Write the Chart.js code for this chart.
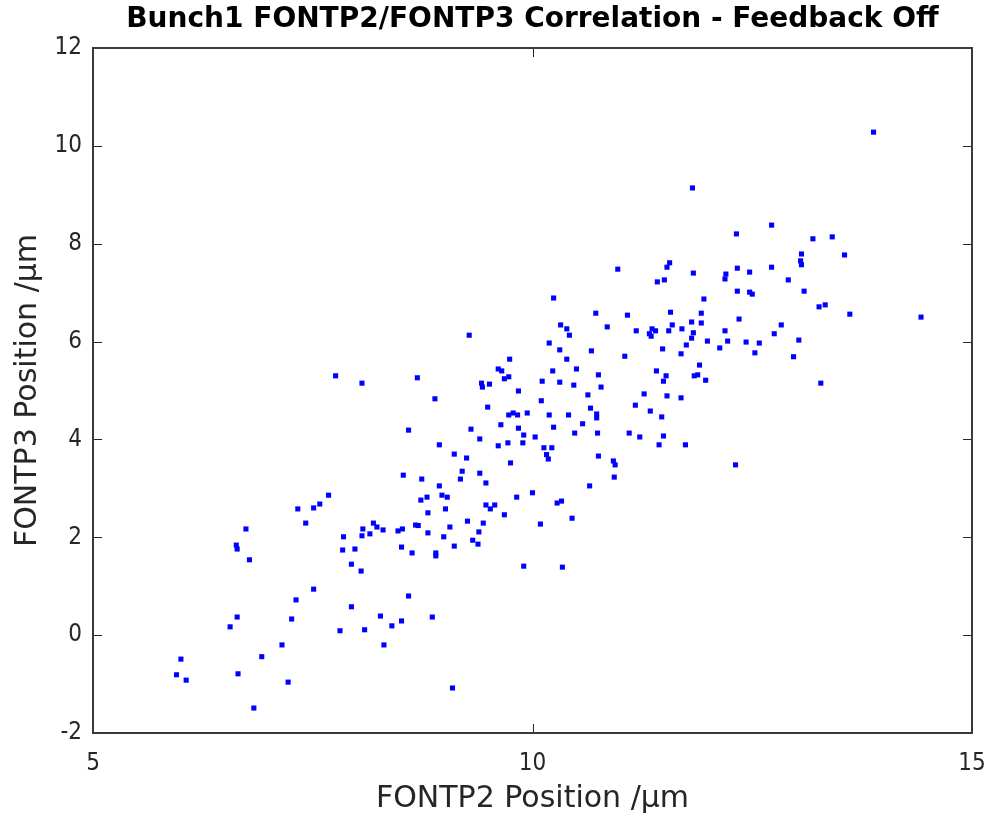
<!DOCTYPE html>
<html>
<head>
    <title>Bunch1 FONTP2/FONTP3 Correlation</title>
    <script src="https://cdn.jsdelivr.net/npm/chart.js"></script>
    <style>
        body { margin: 0; background: #fff; }
    </style>
</head>
<body>
    <canvas id="corrChart" width="988" height="817"></canvas>

    <script>
        const chartTitle = 'Bunch1 FONTP2/FONTP3 Correlation - Feedback Off';
        const xLabel = 'FONTP2 Position /\u03bcm';
        const yLabel = 'FONTP3 Position /\u03bcm';

        // FONTP2 positions (um)
        const fontp2 = [
            5.95, 6.00, 6.06, 6.56, 6.64, 6.65, 6.63, 6.64, 6.74, 6.78,
            6.83, 6.92, 7.15, 7.22, 7.26, 7.31, 7.42, 7.51, 7.33, 7.51,
            7.58, 7.68, 7.76, 7.81, 7.85, 7.84, 7.98, 7.94, 7.94, 8.05,
            8.06, 8.07, 8.06, 8.09, 8.15, 8.19, 8.23, 8.27, 8.30, 8.31,
            8.40, 8.47, 8.51, 8.51, 8.52, 8.53, 8.59, 8.59, 8.63, 8.67,
            8.70, 8.69, 8.74, 8.73, 8.80, 8.81, 8.81, 8.86, 8.89, 8.90,
            8.90, 8.94, 8.94, 8.97, 8.99, 9.01, 9.03, 9.06, 9.11, 9.11,
            9.09, 9.18, 9.20, 9.25, 9.26, 9.28, 9.30, 9.32, 9.38, 9.39,
            9.40, 9.40, 9.42, 9.43, 9.44, 9.47, 9.47, 9.49, 9.51, 9.52,
            9.57, 9.61, 9.61, 9.64, 9.65, 9.68, 9.68, 9.72, 9.73, 9.73,
            9.74, 9.75, 9.78, 9.82, 9.83, 9.84, 9.84, 9.89, 9.90, 9.90,
            9.94, 10.00, 10.03, 10.09, 10.10, 10.11, 10.13, 10.16, 10.18, 10.19,
            10.19, 10.22, 10.23, 10.24, 10.24, 10.28, 10.31, 10.31, 10.32, 10.33,
            10.34, 10.39, 10.39, 10.41, 10.42, 10.45, 10.47, 10.48, 10.50, 10.57,
            10.63, 10.65, 10.66, 10.67, 10.72, 10.73, 10.73, 10.74, 10.75, 10.75,
            10.78, 10.85, 10.92, 10.94, 10.93, 10.97, 11.05, 11.08, 11.10, 11.17,
            11.18, 11.22, 11.27, 11.33, 11.34, 11.35, 11.36, 11.40, 11.41, 11.42,
            11.44, 11.47, 11.48, 11.49, 11.49, 11.50, 11.52, 11.53, 11.53, 11.55,
            11.56, 11.57, 11.59, 11.69, 11.69, 11.70, 11.74, 11.75, 11.81, 11.81,
            11.82, 11.83, 11.83, 11.84, 11.88, 11.90, 11.92, 11.92, 11.95, 11.97,
            11.99, 12.13, 12.19, 12.19, 12.20, 12.22, 12.31, 12.32, 12.33, 12.33,
            12.35, 12.43, 12.47, 12.47, 12.50, 12.53, 12.58, 12.72, 12.72, 12.75,
            12.83, 12.91, 12.97, 13.03, 13.05, 13.06, 13.06, 13.09, 13.19, 13.26,
            13.28, 13.33, 13.41, 13.55, 13.61, 13.88, 14.42
        ];

        // FONTP3 positions (um), same order as fontp2
        const fontp3 = [
            -0.81, -0.49, -0.92, 0.17, 0.37, -0.79, 1.84, 1.76, 2.17, 1.54,
            -1.49, -0.44, -0.20, -0.96, 0.33, 0.72, 2.29, 0.94, 2.58, 2.60,
            2.68, 2.86, 5.30, 0.09, 2.01, 1.74, 1.76, 1.45, 0.58, 1.31,
            2.03, 2.17, 5.15, 0.11, 2.07, 2.29, 2.21, 0.39, 2.15, -0.20,
            0.19, 2.13, 0.29, 1.80, 2.17, 3.27, 0.80, 4.19, 1.68, 2.25,
            2.24, 5.26, 3.19, 2.76, 2.82, 2.50, 2.09, 0.37, 4.83, 1.68,
            1.62, 3.89, 3.05, 2.86, 2.01, 2.58, 2.82, 2.21, 3.70, 1.82,
            -1.08, 3.19, 3.35, 3.62, 2.33, 6.13, 4.21, 1.94, 1.86, 2.11,
            4.01, 3.31, 5.15, 5.07, 2.29, 3.11, 2.66, 4.66, 5.13, 2.58,
            2.66, 5.44, 3.87, 4.30, 5.40, 5.24, 2.46, 3.93, 5.28, 4.50,
            5.64, 3.52, 4.54, 2.82, 4.50, 4.99, 4.23, 3.93, 4.09, 1.41,
            4.54, 2.91, 4.05, 2.27, 4.79, 5.19, 3.83, 3.69, 3.60, 5.97,
            4.50, 3.83, 5.40, 6.89, 4.25, 2.70, 5.83, 5.17, 6.34, 2.74,
            1.39, 6.26, 5.64, 4.50, 6.13, 2.39, 5.11, 4.13, 5.44, 4.32,
            4.91, 3.05, 4.64, 5.81, 6.58, 4.52, 4.44, 4.13, 5.32, 3.66,
            5.07, 6.30, 3.56, 3.48, 3.23, 7.48, 5.70, 6.54, 4.13, 4.70,
            6.22, 4.05, 4.93, 6.16, 4.58, 6.11, 6.26, 6.22, 5.40, 7.22,
            3.89, 4.46, 5.85, 5.19, 4.07, 7.26, 5.30, 7.52, 4.89, 6.22,
            7.61, 6.60, 6.34, 5.75, 4.85, 6.26, 3.89, 5.93, 6.40, 6.07,
            9.14, 7.40, 6.18, 5.30, 5.32, 5.52, 6.58, 6.38, 6.87, 5.21,
            6.01, 5.87, 7.28, 6.22, 7.38, 6.01, 3.48, 8.20, 7.50, 7.03,
            6.46, 5.99, 7.42, 7.01, 6.97, 5.77, 5.97, 7.52, 8.38, 6.16,
            6.34, 7.26, 5.69, 6.03, 7.65, 7.57, 7.79, 7.03, 8.10, 6.71,
            5.15, 6.75, 8.14, 7.77, 6.56, 10.28, 6.50
        ];

        const xTicks = [5, 10, 15];
        const yTicks = [-2, 0, 2, 4, 6, 8, 10, 12];

        const FONT = '"DejaVu Sans Condensed", "DejaVu Sans", sans-serif';
        const LABEL_FONT = '"DejaVu Sans", sans-serif';
        const AXIS_COLOR = '#262626';

        const points = fontp2.map((x, i) => ({ x: x, y: fontp3[i] }));

        // box round the plot, ticks pointing inward, title over the plot centre
        const matlabFrame = {
            id: 'matlabFrame',
            afterDraw(chart) {
                const ctx = chart.ctx;
                const a = chart.chartArea;
                const xs = chart.scales.x;
                const ys = chart.scales.y;
                const len = 9;
                ctx.save();
                ctx.strokeStyle = AXIS_COLOR;
                ctx.lineWidth = 1;
                ctx.beginPath();
                xTicks.forEach(v => {
                    const px = Math.round(xs.getPixelForValue(v)) + 0.5;
                    ctx.moveTo(px, a.bottom); ctx.lineTo(px, a.bottom - len);
                    ctx.moveTo(px, a.top); ctx.lineTo(px, a.top + len);
                });
                yTicks.forEach(v => {
                    const py = Math.round(ys.getPixelForValue(v)) + 0.5;
                    ctx.moveTo(a.left, py); ctx.lineTo(a.left + len, py);
                    ctx.moveTo(a.right, py); ctx.lineTo(a.right - len, py);
                });
                ctx.stroke();
                ctx.lineWidth = 2;
                ctx.strokeStyle = '#3a3a3a';
                ctx.strokeRect(a.left, a.top, a.right - a.left, a.bottom - a.top);

                ctx.fillStyle = '#000';
                ctx.font = 'bold 28px ' + LABEL_FONT;
                ctx.textAlign = 'center';
                ctx.textBaseline = 'middle';
                ctx.fillText(chartTitle, (a.left + a.right) / 2, 20);
                ctx.restore();
            }
        };

        const config = {
            type: 'scatter',
            data: {
                datasets: [{
                    data: points,
                    pointStyle: 'rect',
                    pointRadius: 3.6,
                    pointHoverRadius: 3.6,
                    borderWidth: 0,
                    backgroundColor: '#0000ff',
                    borderColor: '#0000ff'
                }]
            },
            options: {
                responsive: false,
                animation: false,
                layout: { padding: { top: 48, right: 16, left: 0, bottom: 0 } },
                plugins: {
                    legend: { display: false },
                    tooltip: { enabled: false }
                },
                scales: {
                    x: {
                        type: 'linear',
                        min: 5,
                        max: 15,
                        afterBuildTicks: s => { s.ticks = xTicks.map(v => ({ value: v })); },
                        afterFit: s => {
                            s.height = 84;
                            s.paddingLeft = 0;
                            s.paddingRight = 0;
                        },
                        grid: { display: false },
                        border: { display: false },
                        ticks: {
                            color: AXIS_COLOR,
                            font: { family: FONT, size: 24 },
                            padding: 8
                        },
                        title: {
                            display: true,
                            text: xLabel,
                            color: AXIS_COLOR,
                            font: { family: LABEL_FONT, size: 30 },
                            padding: { top: 0, bottom: 0 }
                        }
                    },
                    y: {
                        type: 'linear',
                        min: -2,
                        max: 12,
                        afterBuildTicks: s => { s.ticks = yTicks.map(v => ({ value: v })); },
                        afterFit: s => { s.width = 93; },
                        grid: { display: false },
                        border: { display: false },
                        ticks: {
                            color: AXIS_COLOR,
                            font: { family: FONT, size: 24 },
                            padding: 3
                        },
                        title: {
                            display: true,
                            text: yLabel,
                            color: AXIS_COLOR,
                            font: { family: LABEL_FONT, size: 30 },
                            padding: { top: 10, bottom: 0 }
                        }
                    }
                }
            },
            plugins: [matlabFrame]
        };

        const corrChart = new Chart(document.getElementById('corrChart'), config);
    </script>
</body>
</html>
